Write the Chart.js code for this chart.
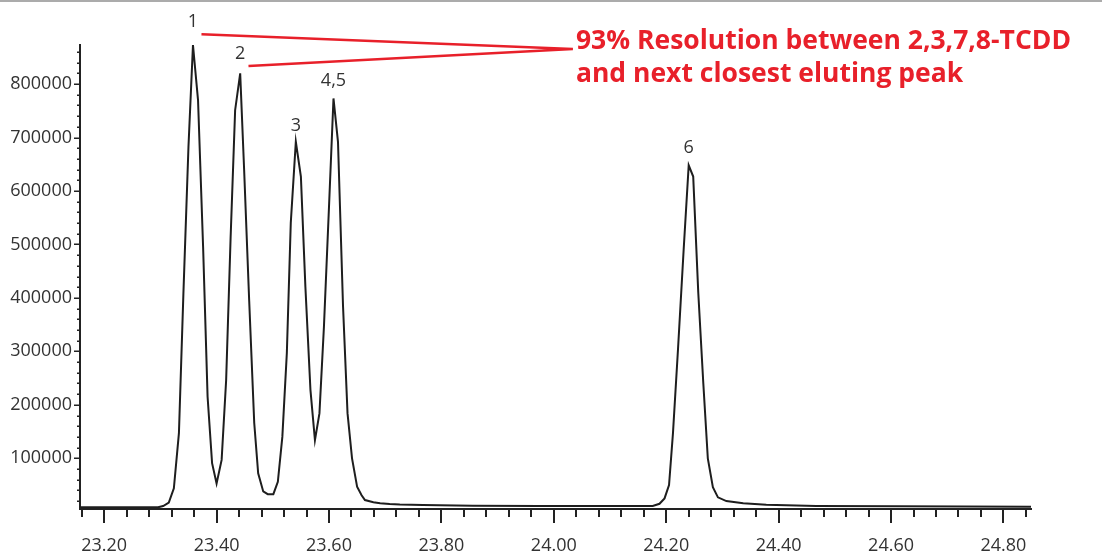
<!DOCTYPE html>
<html>
<head>
<meta charset="utf-8">
<script src="https://cdn.jsdelivr.net/npm/chart.js@4.4.1/dist/chart.umd.min.js"></script>
<style>
  html, body { margin: 0; padding: 0; background: #fff; }
  #wrap { width: 1102px; height: 555px; position: relative; }
</style>
</head>
<body>
<div id="wrap"><canvas id="chrom"></canvas></div>
<script>
// retention time (min) and detector response
const retTimes = [
  23.157, 23.200, 23.250, 23.296, 23.305, 23.315, 23.324, 23.333, 23.341, 23.350,
  23.358, 23.367, 23.376, 23.384, 23.392, 23.400, 23.409, 23.417, 23.425, 23.433,
  23.442, 23.449, 23.458, 23.467, 23.474, 23.483, 23.491, 23.501, 23.509, 23.517,
  23.525, 23.532, 23.541, 23.550, 23.558, 23.567, 23.575, 23.583, 23.591, 23.600,
  23.608, 23.616, 23.625, 23.633, 23.641, 23.650, 23.658, 23.664, 23.679, 23.691,
  23.708, 23.726, 23.767, 23.856, 23.975, 24.100, 24.176, 24.188, 24.197, 24.205,
  24.212, 24.221, 24.231, 24.240, 24.248, 24.257, 24.266, 24.274, 24.283, 24.292,
  24.307, 24.337, 24.378, 24.467, 24.615, 24.849
];
const response = [
  8400, 8400, 8400, 8700, 10800, 17000, 44000, 147000, 409000, 683000,
  873000, 770000, 496000, 215000, 91000, 53000, 97000, 246000, 514000, 751000,
  820000, 640000, 395000, 166000, 72000, 38000, 33000, 33000, 56000, 140000,
  297000, 540000, 692000, 627000, 421000, 228000, 134000, 184000, 346000, 570000,
  773000, 692000, 384000, 184000, 100000, 47000, 31000, 22000, 17800, 15900,
  14600, 13700, 12700, 11500, 10900, 10800, 10800, 15000, 25000, 50000,
  147000, 305000, 490000, 648000, 627000, 410000, 240000, 100000, 46000, 27000,
  20000, 16000, 13000, 11000, 10300, 9600
];

const xTicks = [23.2, 23.4, 23.6, 23.8, 24.0, 24.2, 24.4, 24.6, 24.8];
const yTicks = [100000, 200000, 300000, 400000, 500000, 600000, 700000, 800000];
const xMinorStep = 0.04;
const yMinorStep = 20000;

const peakNames = ['1', '2', '3', '4,5', '6'];
const peakTimes = [23.358, 23.442, 23.541, 23.608, 24.240];
const peakHeights = [873000, 820000, 692000, 773000, 648000];

const noteLines = ['93% Resolution between 2,3,7,8-TCDD', 'and next closest eluting peak'];

Chart.defaults.font.family = '"Open Sans", "Noto Sans", sans-serif';
Chart.defaults.color = '#333';

// minor ticks, peak numbers and the red note
const decor = {
  id: 'decor',
  afterDraw(chart, args, opts) {
    const ctx = chart.ctx;
    const xs = chart.scales.x, ys = chart.scales.y;
    const area = chart.chartArea;
    ctx.save();

    ctx.fillStyle = '#ababab';
    ctx.fillRect(0, 0, chart.width, 2);

    ctx.strokeStyle = '#222';
    ctx.lineWidth = 2;
    ctx.beginPath();
    for (let v = 23.16; v <= xs.max + 1e-9; v += xMinorStep) {
      const px = Math.round(xs.getPixelForValue(v));
      const major = Math.abs(v / 0.2 - Math.round(v / 0.2)) < 1e-6;
      ctx.moveTo(px, area.bottom);
      ctx.lineTo(px, area.bottom + (major ? 14 : 8));
    }
    ctx.stroke();

    ctx.lineWidth = 1.5;
    ctx.beginPath();
    for (let v = yMinorStep; v <= ys.max; v += yMinorStep) {
      const py = Math.round(ys.getPixelForValue(v)) + 0.25;
      const major = v % 100000 === 0;
      ctx.moveTo(area.left, py);
      ctx.lineTo(area.left - (major ? 6 : 3), py);
    }
    ctx.stroke();

    ctx.font = '18px "Open Sans", "Noto Sans", sans-serif';
    ctx.fillStyle = '#333';
    ctx.textAlign = 'center';
    ctx.textBaseline = 'middle';
    peakNames.forEach((name, i) => {
      const px = xs.getPixelForValue(peakTimes[i]);
      const py = ys.getPixelForValue(peakHeights[i]);
      ctx.fillText(name, px, py - opts.labelOffsets[i]);
    });

    const ax = xs.getPixelForValue(opts.noteAnchor[0]);
    const ay = ys.getPixelForValue(opts.noteAnchor[1]);
    ctx.strokeStyle = '#e8202a';
    ctx.lineWidth = 2.5;
    ctx.beginPath();
    [0, 1].forEach(i => {
      const px = xs.getPixelForValue(peakTimes[i]) + opts.leaderStart[i][0];
      const py = ys.getPixelForValue(peakHeights[i]) + opts.leaderStart[i][1];
      ctx.moveTo(px, py);
      ctx.lineTo(ax, ay);
    });
    ctx.stroke();

    ctx.fillStyle = '#e8202a';
    ctx.font = 'bold 26.5px "Open Sans", "Noto Sans", sans-serif';
    ctx.textAlign = 'left';
    ctx.textBaseline = 'alphabetic';
    noteLines.forEach((line, i) => {
      ctx.fillText(line, ax + 3, ay + i * 33);
    });

    ctx.restore();
  }
};

const ctx = document.getElementById('chrom').getContext('2d');
new Chart(ctx, {
  type: 'line',
  data: {
    datasets: [{
      data: retTimes.map((t, i) => ({ x: t, y: response[i] })),
      borderColor: '#1e1e1e',
      borderWidth: 2,
      pointRadius: 0,
      tension: 0,
      borderJoinStyle: 'miter',
      clip: false
    }]
  },
  options: {
    responsive: true,
    maintainAspectRatio: false,
    animation: false,
    layout: { padding: { top: 45, right: 71, left: 0, bottom: 0 } },
    plugins: {
      legend: { display: false },
      tooltip: { enabled: false },
      decor: {
        labelOffsets: [23, 19, 16, 18, 17],
        leaderStart: [[8.5, -10.7], [8.3, -7.3]],
        noteAnchor: [24.034, 865500]
      }
    },
    scales: {
      x: {
        type: 'linear',
        min: 23.157,
        max: 24.849,
        afterBuildTicks: s => { s.ticks = xTicks.map(v => ({ value: v })); },
        afterFit: s => { s.height = 46; },
        grid: { display: true, drawOnChartArea: false, drawTicks: false },
        border: { color: '#222', width: 2 },
        ticks: {
          autoSkip: false,
          maxRotation: 0,
          padding: 26,
          font: { size: 18 },
          callback: v => v.toFixed(2)
        }
      },
      y: {
        min: 5200,
        max: 873000,
        afterBuildTicks: s => { s.ticks = yTicks.map(v => ({ value: v })); },
        afterFit: s => { s.width = 80; },
        grid: { display: true, drawOnChartArea: false, drawTicks: false },
        border: { color: '#222', width: 2 },
        ticks: {
          padding: 8,
          font: { size: 18 },
          callback: v => String(v)
        }
      }
    }
  },
  plugins: [decor]
});
</script>
</body>
</html>
